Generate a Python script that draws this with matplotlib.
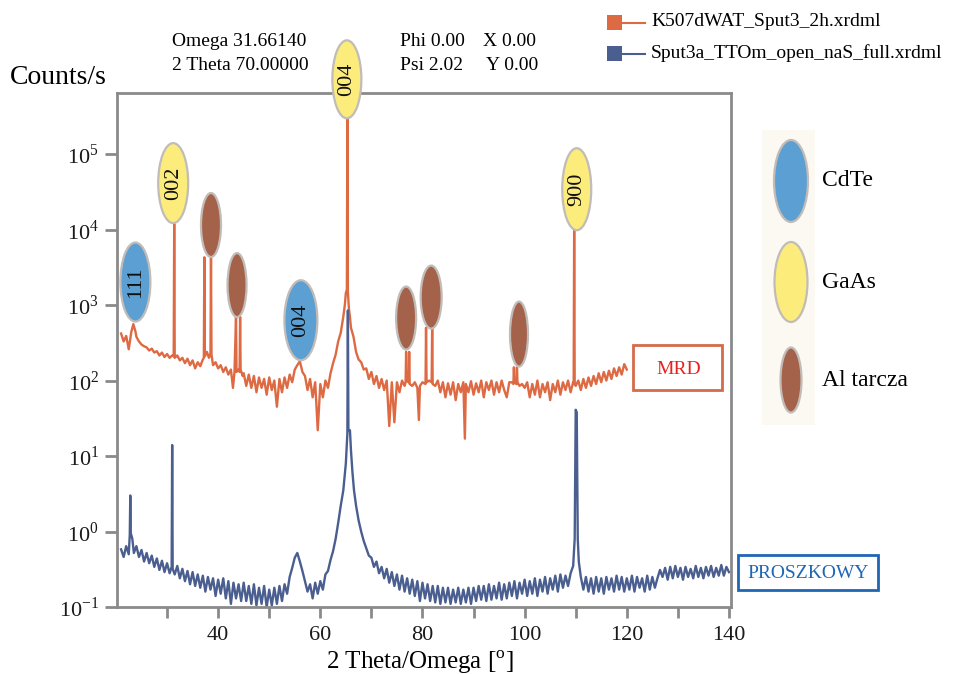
import matplotlib
matplotlib.use("Agg")
import matplotlib.pyplot as plt
from matplotlib.patches import Ellipse, Rectangle
from matplotlib.lines import Line2D
from matplotlib.ticker import NullLocator

plt.rcParams['font.family'] = ['Liberation Serif', 'DejaVu Serif']
plt.rcParams['mathtext.fontset'] = 'custom'
plt.rcParams['mathtext.rm'] = 'Liberation Serif'

# MRD scan (orange), 2theta in deg, counts/s
mrd_theta = [
    21.0, 21.5, 22.0, 22.5, 23.0, 23.4, 23.8, 24.0, 24.5, 25.0,
    25.5, 26.0, 26.5, 27.0, 27.5, 28.0, 28.5, 29.0, 29.5, 30.0,
    30.5, 31.0, 31.3, 31.4, 31.5, 32.0, 32.5, 33.0, 33.5, 34.0,
    34.5, 35.0, 35.5, 36.0, 36.5, 37.0, 37.2, 37.3, 37.4, 37.8,
    38.2, 38.5, 38.6, 38.7, 39.0, 39.5, 40.0, 40.5, 41.0, 41.5,
    42.0, 42.5, 42.9, 43.2, 43.5, 43.6, 44.0, 44.2, 44.3, 44.4,
    44.8, 45.0, 45.5, 46.0, 46.5, 47.0, 47.5, 48.0, 48.5, 49.0,
    49.5, 50.0, 50.5, 51.0, 51.5, 52.0, 52.5, 53.0, 53.5, 54.0,
    54.5, 55.0, 55.5, 56.0, 56.5, 57.0, 57.5, 58.0, 58.5, 59.0,
    59.5, 60.0, 60.5, 61.0, 61.5, 62.0, 62.5, 63.0, 63.5, 64.0,
    64.5, 64.8, 65.0, 65.2, 65.3, 65.4, 65.6, 65.8, 66.0, 66.5,
    67.0, 67.5, 68.0, 68.5, 69.0, 69.5, 70.0, 70.5, 71.0, 71.5,
    72.0, 72.5, 73.0, 73.5, 74.0, 74.5, 75.0, 75.5, 76.0, 76.5,
    76.7, 76.8, 76.9, 77.3, 77.4, 77.5, 78.0, 78.5, 79.0, 79.3,
    79.5, 80.0, 80.6, 80.7, 80.8, 81.3, 81.8, 81.9, 82.0, 82.5,
    83.0, 83.5, 84.0, 84.5, 85.0, 85.5, 86.0, 86.5, 87.0, 87.5,
    88.0, 88.3, 88.5, 89.0, 89.5, 90.0, 90.5, 91.0, 91.5, 92.0,
    92.5, 93.0, 93.5, 94.0, 94.5, 95.0, 95.5, 96.0, 96.5, 97.0,
    97.5, 97.8, 97.9, 98.0, 98.4, 98.5, 98.6, 99.0, 99.5, 100.0,
    100.5, 101.0, 101.5, 102.0, 102.5, 103.0, 103.5, 104.0, 104.5, 105.0,
    105.5, 106.0, 106.5, 107.0, 107.5, 108.0, 108.5, 109.0, 109.5, 109.6,
    109.7, 109.8, 110.0, 110.5, 111.0, 111.5, 112.0, 112.5, 113.0, 113.5,
    114.0, 114.5, 115.0, 115.5, 116.0, 116.5, 117.0, 117.5, 118.0, 118.5,
    119.0, 119.5, 120.0,
]
mrd_counts = [
    420, 330, 390, 260, 440, 560, 450, 380, 330, 300,
    285, 275, 250, 265, 235, 245, 215, 235, 205, 225,
    200, 215, 210, 12000, 200, 215, 185, 200, 170, 195,
    160, 185, 145, 175, 155, 190, 200, 4300, 210, 240,
    200, 230, 4300, 220, 160, 175, 145, 160, 130, 150,
    120, 140, 80, 130, 700, 130, 140, 130, 700, 140,
    115, 125, 85, 120, 80, 115, 70, 110, 80, 105,
    65, 110, 75, 100, 45, 105, 70, 110, 80, 120,
    95, 140, 160, 180, 130, 115, 75, 105, 60, 95,
    22, 90, 60, 100, 80, 125, 170, 220, 330, 430,
    700, 1000, 1450, 1600, 320000, 1500, 900, 700, 500, 380,
    240, 190, 175, 140, 145, 105, 130, 90, 115, 80,
    105, 75, 100, 25, 95, 28, 95, 70, 100, 85,
    95, 240, 100, 95, 240, 90, 85, 95, 80, 30,
    85, 95, 90, 500, 95, 100, 95, 500, 90, 85,
    100, 70, 95, 60, 92, 65, 95, 55, 90, 70,
    95, 17, 90, 70, 98, 65, 92, 70, 100, 60,
    95, 75, 100, 65, 95, 70, 100, 75, 60, 95,
    95, 90, 150, 95, 90, 150, 95, 85, 90, 80,
    95, 60, 90, 65, 100, 60, 90, 70, 95, 55,
    90, 70, 100, 65, 95, 75, 100, 70, 95, 95,
    11000, 90, 85, 100, 75, 105, 80, 110, 85, 115,
    90, 125, 95, 130, 100, 135, 105, 145, 115, 150,
    120, 165, 140,
]

# powder scan (blue)
psz_theta = [
    21.0, 21.5, 22.0, 22.5, 22.7, 22.8, 22.9, 23.2, 23.5, 24.0,
    24.5, 25.0, 25.5, 26.0, 26.5, 27.0, 27.5, 28.0, 28.5, 29.0,
    29.5, 30.0, 30.5, 30.9, 31.0, 31.1, 31.5, 32.0, 32.5, 33.0,
    33.5, 34.0, 34.5, 35.0, 35.5, 36.0, 36.5, 37.0, 37.5, 38.0,
    38.5, 39.0, 39.5, 40.0, 40.5, 41.0, 41.5, 42.0, 42.5, 43.0,
    43.5, 44.0, 44.5, 45.0, 45.5, 46.0, 46.5, 47.0, 47.5, 48.0,
    48.5, 49.0, 49.5, 50.0, 50.5, 51.0, 51.5, 52.0, 52.5, 53.0,
    53.5, 54.0, 54.5, 55.0, 55.5, 56.0, 56.5, 57.0, 57.5, 58.0,
    58.5, 59.0, 59.5, 60.0, 60.5, 61.0, 61.5, 62.0, 62.5, 63.0,
    63.5, 64.0, 64.5, 65.0, 65.3, 65.4, 65.5, 65.8, 66.0, 66.3,
    66.6, 67.0, 67.5, 68.0, 68.5, 69.0, 69.5, 70.0, 70.5, 71.0,
    71.5, 72.0, 72.5, 73.0, 73.5, 74.0, 74.5, 75.0, 75.5, 76.0,
    76.5, 77.0, 77.5, 78.0, 78.5, 79.0, 79.5, 80.0, 80.5, 81.0,
    81.5, 82.0, 82.5, 83.0, 83.5, 84.0, 84.5, 85.0, 85.5, 86.0,
    86.5, 87.0, 87.5, 88.0, 88.5, 89.0, 89.5, 90.0, 90.5, 91.0,
    91.5, 92.0, 92.5, 93.0, 93.5, 94.0, 94.5, 95.0, 95.5, 96.0,
    96.5, 97.0, 97.5, 98.0, 98.5, 99.0, 99.5, 100.0, 100.5, 101.0,
    101.5, 102.0, 102.5, 103.0, 103.5, 104.0, 104.5, 105.0, 105.5, 106.0,
    106.5, 107.0, 107.5, 108.0, 108.5, 109.0, 109.5, 109.8, 110.0, 110.2,
    110.4, 110.6, 111.0, 111.5, 112.0, 112.5, 113.0, 113.5, 114.0, 114.5,
    115.0, 115.5, 116.0, 116.5, 117.0, 117.5, 118.0, 118.5, 119.0, 119.5,
    120.0, 120.5, 121.0, 121.5, 122.0, 122.5, 123.0, 123.5, 124.0, 124.5,
    125.0, 125.5, 126.0, 126.5, 127.0, 127.5, 128.0, 128.5, 129.0, 129.5,
    130.0, 130.5, 131.0, 131.5, 132.0, 132.5, 133.0, 133.5, 134.0, 134.5,
    135.0, 135.5, 136.0, 136.5, 137.0, 137.5, 138.0, 138.5, 139.0, 139.5,
    140.0,
]
psz_counts = [
    0.58, 0.46, 0.64, 0.50, 0.9, 3.0, 0.95, 0.8, 0.52, 0.64,
    0.46, 0.57, 0.40, 0.52, 0.38, 0.48, 0.34, 0.44, 0.31, 0.41,
    0.29, 0.38, 0.28, 0.34, 14, 0.32, 0.27, 0.35, 0.24, 0.32,
    0.22, 0.30, 0.20, 0.29, 0.19, 0.27, 0.18, 0.26, 0.16, 0.25,
    0.17, 0.24, 0.14, 0.23, 0.15, 0.24, 0.13, 0.22, 0.11, 0.21,
    0.13, 0.20, 0.12, 0.21, 0.12, 0.19, 0.11, 0.20, 0.105, 0.18,
    0.11, 0.19, 0.10, 0.17, 0.105, 0.18, 0.11, 0.19, 0.12, 0.20,
    0.15, 0.25, 0.33, 0.45, 0.52, 0.40, 0.30, 0.22, 0.16, 0.20,
    0.13, 0.21, 0.15, 0.22, 0.17, 0.27, 0.30, 0.42, 0.55, 0.8,
    1.3, 2.2, 3.5, 8, 20, 850, 22, 22, 12, 6,
    3.5, 2.2, 1.4, 1.0, 0.75, 0.6, 0.48, 0.45, 0.34, 0.40,
    0.28, 0.34, 0.24, 0.32, 0.21, 0.29, 0.19, 0.27, 0.17, 0.26,
    0.16, 0.24, 0.15, 0.23, 0.14, 0.22, 0.12, 0.21, 0.13, 0.20,
    0.12, 0.19, 0.115, 0.19, 0.11, 0.18, 0.115, 0.18, 0.11, 0.17,
    0.115, 0.18, 0.11, 0.17, 0.115, 0.18, 0.11, 0.18, 0.12, 0.19,
    0.125, 0.19, 0.12, 0.20, 0.125, 0.19, 0.13, 0.21, 0.125, 0.20,
    0.13, 0.21, 0.14, 0.22, 0.13, 0.21, 0.15, 0.23, 0.14, 0.22,
    0.15, 0.24, 0.14, 0.23, 0.16, 0.25, 0.15, 0.24, 0.17, 0.26,
    0.16, 0.27, 0.18, 0.26, 0.19, 0.28, 0.35, 0.8, 41, 38,
    0.8, 0.4, 0.25, 0.17, 0.25, 0.16, 0.24, 0.15, 0.25, 0.16,
    0.24, 0.15, 0.25, 0.17, 0.24, 0.16, 0.26, 0.17, 0.25, 0.16,
    0.24, 0.17, 0.26, 0.16, 0.25, 0.18, 0.24, 0.16, 0.26, 0.17,
    0.25, 0.18, 0.24, 0.31, 0.25, 0.33, 0.23, 0.34, 0.24, 0.35,
    0.25, 0.33, 0.23, 0.34, 0.25, 0.32, 0.24, 0.35, 0.25, 0.33,
    0.24, 0.34, 0.26, 0.35, 0.25, 0.33, 0.26, 0.36, 0.26, 0.34,
    0.29,
]

ytick_vals = [0.1, 1, 10, 100, 1e3, 1e4, 1e5]
ytick_labels = ["10$^{-1}$", "10$^{0}$", "10$^{1}$", "10$^{2}$", "10$^{3}$", "10$^{4}$", "10$^{5}$"]
xtick_major = [40, 60, 80, 100, 120, 140]
xtick_minor = [30, 50, 70, 90, 110, 130]

# peak markers: theta, counts of ellipse centre, width px, height px, phase, label
peak_theta = [23.8, 31.2, 38.6, 43.7, 56.2, 65.2, 110.2, 76.8, 81.7, 98.9]
peak_counts = [2020, 41300, 11500, 1840, 630, 9.8e5, 34300, 673, 1276, 413]
peak_w = [30, 30, 20, 19, 33, 29, 29, 20, 21, 18]
peak_h = [79, 80, 64, 64, 80, 78, 82, 63, 63, 65]
peak_phase = ["CdTe", "GaAs", "Al", "Al", "CdTe", "GaAs", "GaAs", "Al", "Al", "Al"]
peak_label = ["111", "002", "", "", "004", "004", "900", "", "", ""]

phases = ["CdTe", "GaAs", "Al tarcza"]
phase_colors = {"CdTe": "#5b9fd3", "GaAs": "#fbec7c", "Al": "#a4624a"}

orange = "#dd6a43"
blue = "#4a5f8f"
W, H = 954, 674

fig = plt.figure(figsize=(9.54, 6.74), dpi=100)
ax = fig.add_axes([117 / W, 1 - 607 / H, (731 - 117) / W, (607 - 93) / H])

ax.plot(mrd_theta, mrd_counts, color=orange, lw=1.7, zorder=2)
ax.plot(psz_theta, psz_counts, color=blue, lw=1.7, zorder=2.1)
ax.set_yscale("log")
ax.set_xlim(20.2, 140.4)
ax.set_ylim(0.1, 10 ** 5.81)
ax.set_yticks(ytick_vals, ytick_labels)
ax.yaxis.set_minor_locator(NullLocator())
ax.set_xticks(xtick_major)
ax.set_xticks(xtick_minor, minor=True)
ax.tick_params(axis="both", which="both", direction="out", color="#8a8a8a", width=2,
               labelsize=16, labelcolor="#1a1a1a")
ax.tick_params(axis="x", which="both", length=8, pad=6)
ax.tick_params(axis="y", length=9, pad=4)
for s in ax.spines.values():
    s.set_color("#8a8a8a")
    s.set_linewidth(2)

axw = (731 - 117)
axh = (607 - 93)
for i in range(len(peak_theta)):
    cx, cy = ax.transAxes.inverted().transform(ax.transData.transform((peak_theta[i], peak_counts[i])))
    e = Ellipse((cx, cy), peak_w[i] / axw, peak_h[i] / axh, transform=ax.transAxes,
                facecolor=phase_colors[peak_phase[i]], edgecolor="#c2bcb8", lw=1.6,
                zorder=4, clip_on=False)
    ax.add_patch(e)
    if peak_label[i]:
        ax.text(cx, cy, peak_label[i], transform=ax.transAxes, rotation=90, ha="center",
                va="center", fontsize=16, color="#111111", zorder=5)

# header text
fig.text(172 / W, 1 - 42 / H, "Omega 31.66140", fontsize=14, va="center")
fig.text(172 / W, 1 - 65 / H, "2 Theta 70.00000", fontsize=14, va="center")
fig.text(400 / W, 1 - 42 / H, "Phi 0.00", fontsize=14, va="center")
fig.text(483 / W, 1 - 42 / H, "X 0.00", fontsize=14, va="center")
fig.text(400 / W, 1 - 65 / H, "Psi 2.02", fontsize=14, va="center")
fig.text(486 / W, 1 - 65 / H, "Y 0.00", fontsize=14, va="center")
fig.text(10 / W, 1 - 78 / H, "Counts/s", fontsize=20, va="center")
fig.text(420 / W, 1 - 662 / H, "2 Theta/Omega [$^{\\mathrm{o}}$]", fontsize=18, ha="center", va="center")

# file legend
files = ["K507dWAT_Sput3_2h.xrdml", "Sput3a_TTOm_open_naS_full.xrdml"]
for name, col, yy in zip(files, [orange, blue], [22, 53]):
    fig.add_artist(Rectangle((607 / W, 1 - (yy + 8) / H), 15 / W, 15 / H, transform=fig.transFigure,
                             facecolor=col, edgecolor="none"))
    fig.add_artist(Line2D([622 / W, 645 / W], [1 - (yy + 1) / H] * 2, transform=fig.transFigure,
                          color=col, lw=1.5))
    fig.text(651 / W, 1 - yy / H, name, fontsize=14, va="center")

# scan boxes
fig.add_artist(Rectangle((633 / W, 1 - 390 / H), 89 / W, 45 / H, transform=fig.transFigure,
                         facecolor="white", edgecolor="#d46b4a", lw=2, zorder=6))
fig.text(679 / W, 1 - 369 / H, "MRD", fontsize=14, color="#e8211f", ha="center", va="center", zorder=7)
fig.add_artist(Rectangle((738 / W, 1 - 590 / H), 140 / W, 35 / H, transform=fig.transFigure,
                         facecolor="white", edgecolor="#1f66b5", lw=2))
fig.text(808 / W, 1 - 573 / H, "PROSZKOWY", fontsize=14, color="#1f66b5", ha="center", va="center")

# phase key
fig.add_artist(Rectangle((762 / W, 1 - 425 / H), 53 / W, 295 / H, transform=fig.transFigure,
                         facecolor="#fcf9f3", edgecolor="none"))
key_y = [181, 282, 380]
key_w = [34, 33, 21]
key_h = [82, 80, 65]
for ph, yy, w, h in zip(phases, key_y, key_w, key_h):
    col = phase_colors[ph.split()[0]]
    fig.add_artist(Ellipse((791 / W, 1 - yy / H), w / W, h / H, transform=fig.transFigure,
                           facecolor=col, edgecolor="#c2bcb8", lw=1.6))
    fig.text(822 / W, 1 - yy / H, ph, fontsize=17, va="center")

fig.savefig("out.png", dpi=100)
